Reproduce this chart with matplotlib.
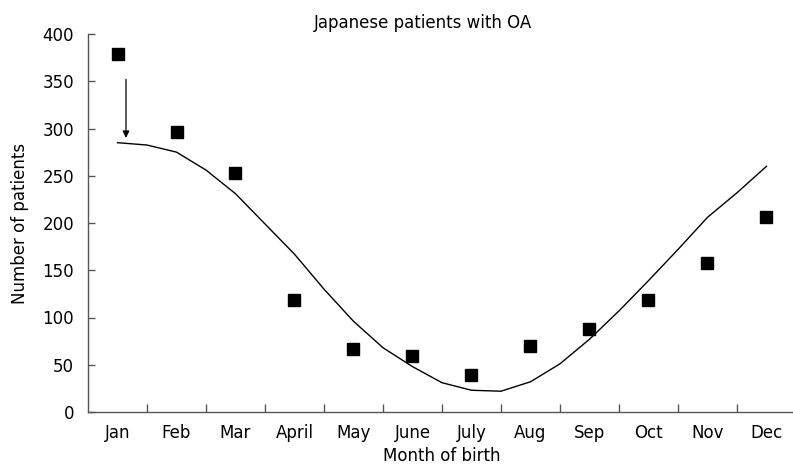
import matplotlib
matplotlib.use("Agg")
import matplotlib.pyplot as plt
import numpy as np

months = ["Jan", "Feb", "Mar", "April", "May", "June", "July",
          "Aug", "Sep", "Oct", "Nov", "Dec"]
patients = [379, 296, 253, 118, 67, 59, 39, 70, 88, 119, 158, 206]

curve_pos = [0, 0.5, 1, 1.5, 2, 2.5, 3, 3.5, 4, 4.5, 5, 5.5,
             6, 6.5, 7, 7.5, 8, 8.5, 9, 9.5, 10, 10.5, 11]
curve_val = [285, 282.5, 275, 256, 231, 199, 167, 130, 96, 68, 48, 31,
             23, 22, 32, 51, 77, 107, 139, 172, 206, 232, 260]

W, H = 793, 466
fig = plt.figure(figsize=(W / 100, H / 100), dpi=100)
ax = fig.add_axes([88 / W, 1 - 412 / H, 708 / W, 378 / H])

x = np.arange(len(months))
ax.plot(curve_pos, curve_val, color="black", lw=1.0)
ax.plot(x, patients, ls="none", marker="s", ms=8.9, color="black")

# arrow from Jan point down to the curve
ax.annotate("", xy=(0.144, 290), xytext=(0.144, 352),
            arrowprops=dict(arrowstyle="-|>", color="black", lw=0.9,
                            mutation_scale=10, shrinkA=0, shrinkB=0))

ax.set_xlim(-0.5, 11.5)
ax.set_ylim(0, 400)
ax.set_yticks(np.arange(0, 401, 50))
ax.set_xticks(x)
ax.set_xticklabels(months)
ax.set_xticks(np.arange(0.5, 11.5, 1), minor=True)

spine_col = "#555555"
for s in ["top", "right"]:
    ax.spines[s].set_visible(False)
for s in ["left", "bottom"]:
    ax.spines[s].set_color(spine_col)
    ax.spines[s].set_linewidth(1.0)

fs = 12
ax.tick_params(axis="y", direction="in", length=5, width=1, color=spine_col,
               labelsize=fs, pad=10)
ax.tick_params(axis="x", which="major", length=0, labelsize=fs, pad=9)
ax.tick_params(axis="x", which="minor", direction="in", length=5.5, width=1,
               color=spine_col)

ax.set_xlabel("Month of birth", fontsize=fs, labelpad=3.5)
ax.set_ylabel("Number of patients", fontsize=fs, labelpad=10)

fig.text(423 / W, 1 - 23 / H, "Japanese patients with OA", ha="center",
         va="center", fontsize=fs)

fig.savefig("out.png", dpi=100)
